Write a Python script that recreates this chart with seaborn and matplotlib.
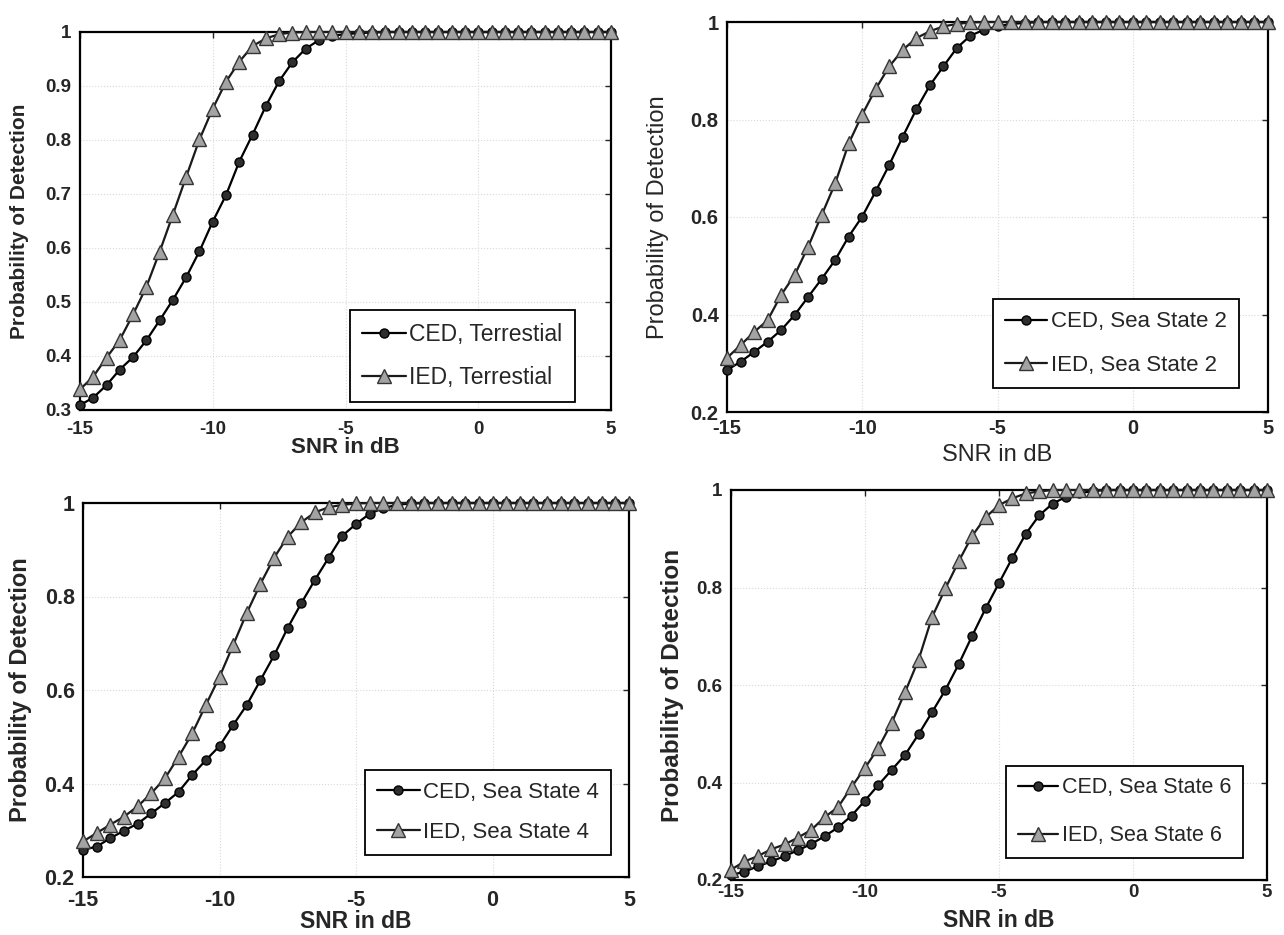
import matplotlib
matplotlib.use("Agg")
import matplotlib.pyplot as plt
import seaborn as sns
from matplotlib.ticker import FuncFormatter

# SNR sweep (dB)
snr_db = [-15.0, -14.5, -14.0, -13.5, -13.0, -12.5, -12.0, -11.5, -11.0, -10.5,
          -10.0, -9.5, -9.0, -8.5, -8.0, -7.5, -7.0, -6.5, -6.0, -5.5,
          -5.0, -4.5, -4.0, -3.5, -3.0, -2.5, -2.0, -1.5, -1.0, -0.5,
          0.0, 0.5, 1.0, 1.5, 2.0, 2.5, 3.0, 3.5, 4.0, 4.5, 5.0]

# Probability of detection, terrestrial
ced_terrestrial = [0.309, 0.323, 0.346, 0.375, 0.398, 0.429, 0.466, 0.504, 0.546, 0.594,
                   0.649, 0.698, 0.760, 0.810, 0.863, 0.909, 0.944, 0.969, 0.985, 0.993,
                   0.996, 0.998, 0.999, 1.0, 1.0, 1.0, 1.0, 1.0, 1.0, 1.0,
                   1.0, 1.0, 1.0, 1.0, 1.0, 1.0, 1.0, 1.0, 1.0, 1.0, 1.0]
ied_terrestrial = [0.338, 0.362, 0.397, 0.430, 0.477, 0.528, 0.593, 0.662, 0.732, 0.801,
                   0.858, 0.908, 0.945, 0.974, 0.988, 0.996, 0.999, 1.0, 1.0, 1.0,
                   1.0, 1.0, 1.0, 1.0, 1.0, 1.0, 1.0, 1.0, 1.0, 1.0,
                   1.0, 1.0, 1.0, 1.0, 1.0, 1.0, 1.0, 1.0, 1.0, 1.0, 1.0]

# Sea state 2
ced_sea2 = [0.286, 0.303, 0.323, 0.344, 0.368, 0.399, 0.436, 0.473, 0.512, 0.560,
            0.601, 0.653, 0.707, 0.765, 0.821, 0.870, 0.909, 0.947, 0.972, 0.984,
            0.991, 0.996, 0.998, 1.0, 1.0, 1.0, 1.0, 1.0, 1.0, 1.0,
            1.0, 1.0, 1.0, 1.0, 1.0, 1.0, 1.0, 1.0, 1.0, 1.0, 1.0]
ied_sea2 = [0.311, 0.337, 0.364, 0.388, 0.440, 0.481, 0.539, 0.604, 0.669, 0.751,
            0.810, 0.863, 0.909, 0.943, 0.967, 0.981, 0.991, 0.996, 0.999, 1.0,
            1.0, 1.0, 1.0, 1.0, 1.0, 1.0, 1.0, 1.0, 1.0, 1.0,
            1.0, 1.0, 1.0, 1.0, 1.0, 1.0, 1.0, 1.0, 1.0, 1.0, 1.0]

# Sea state 4
ced_sea4 = [0.258, 0.265, 0.283, 0.299, 0.314, 0.336, 0.358, 0.382, 0.418, 0.450,
            0.480, 0.525, 0.568, 0.621, 0.674, 0.733, 0.786, 0.836, 0.883, 0.930,
            0.955, 0.977, 0.989, 0.996, 0.999, 1.0, 1.0, 1.0, 1.0, 1.0,
            1.0, 1.0, 1.0, 1.0, 1.0, 1.0, 1.0, 1.0, 1.0, 1.0, 1.0]
ied_sea4 = [0.276, 0.294, 0.312, 0.329, 0.351, 0.379, 0.411, 0.457, 0.507, 0.568,
            0.628, 0.696, 0.765, 0.827, 0.883, 0.928, 0.959, 0.980, 0.991, 0.996,
            0.999, 1.0, 1.0, 1.0, 1.0, 1.0, 1.0, 1.0, 1.0, 1.0,
            1.0, 1.0, 1.0, 1.0, 1.0, 1.0, 1.0, 1.0, 1.0, 1.0, 1.0]

# Sea state 6
ced_sea6 = [0.210, 0.217, 0.228, 0.238, 0.249, 0.261, 0.274, 0.290, 0.308, 0.332,
            0.363, 0.395, 0.426, 0.457, 0.499, 0.544, 0.590, 0.643, 0.701, 0.757,
            0.809, 0.861, 0.910, 0.948, 0.972, 0.986, 0.993, 0.998, 1.0, 1.0,
            1.0, 1.0, 1.0, 1.0, 1.0, 1.0, 1.0, 1.0, 1.0, 1.0, 1.0]
ied_sea6 = [0.221, 0.238, 0.249, 0.263, 0.273, 0.287, 0.303, 0.329, 0.350, 0.391,
            0.430, 0.471, 0.523, 0.586, 0.652, 0.739, 0.798, 0.854, 0.906, 0.944,
            0.969, 0.983, 0.993, 0.997, 1.0, 1.0, 1.0, 1.0, 1.0, 1.0,
            1.0, 1.0, 1.0, 1.0, 1.0, 1.0, 1.0, 1.0, 1.0, 1.0, 1.0]

scenario_names = ["Terrestial", "Sea State 2", "Sea State 4", "Sea State 6"]
x_ticks = [-15, -10, -5, 0, 5]
y_ticks_terrestrial = [0.3, 0.4, 0.5, 0.6, 0.7, 0.8, 0.9, 1.0]
y_ticks_sea = [0.2, 0.4, 0.6, 0.8, 1.0]

sns.set_style("white")
plt.rcParams["font.family"] = ["Liberation Sans", "DejaVu Sans"]
plt.rcParams["axes.unicode_minus"] = False

W, H = 1284, 935
fig = plt.figure(figsize=(W / 100, H / 100), dpi=100)


def px_rect(x0, x1, y0, y1):
    """Axes rectangle from pixel edges (origin at top-left)."""
    return [x0 / W, 1 - y1 / H, (x1 - x0) / W, (y1 - y0) / H]


panels = [
    dict(ced=ced_terrestrial, ied=ied_terrestrial, name=scenario_names[0],
         ylim=(0.3, 1.0), yticks=y_ticks_terrestrial,
         rect=px_rect(80, 611, 32, 410), anchor=(0.932, 0.021),
         tick_size=13.5, xpad=8, weight="bold", xl_size=16, yl_size=15,
         xl_y=-0.098, yl_x=-0.113, leg_size=16.5, leg_space=0.9),
    dict(ced=ced_sea2, ied=ied_sea2, name=scenario_names[1],
         ylim=(0.2, 1.0), yticks=y_ticks_sea,
         rect=px_rect(727, 1268, 22, 412), anchor=(0.946, 0.062),
         tick_size=14.5, xpad=5, weight="normal", xl_size=17, yl_size=17,
         xl_y=-0.110, yl_x=-0.128, leg_size=16, leg_space=1.0),
    dict(ced=ced_sea4, ied=ied_sea4, name=scenario_names[2],
         ylim=(0.2, 1.0), yticks=y_ticks_sea,
         rect=px_rect(83, 629, 503, 877), anchor=(0.967, 0.059),
         tick_size=15.5, xpad=9, weight="bold", xl_size=16.5, yl_size=17,
         xl_y=-0.120, yl_x=-0.115, leg_size=16, leg_space=0.85),
    dict(ced=ced_sea6, ied=ied_sea6, name=scenario_names[3],
         ylim=(0.2, 1.0), yticks=y_ticks_sea,
         rect=px_rect(731, 1267, 490, 880), anchor=(0.955, 0.056),
         tick_size=13.5, xpad=3, weight="bold", xl_size=16.5, yl_size=17.5,
         xl_y=-0.103, yl_x=-0.110, leg_size=15.5, leg_space=1.25),
]

for p in panels:
    ax = fig.add_axes(p["rect"])
    sns.lineplot(x=snr_db, y=p["ced"], ax=ax, color="black", linewidth=1.6,
                 marker="o", markersize=6.5, markerfacecolor="#2e2e2e",
                 markeredgecolor="black", markeredgewidth=1.0,
                 label=f"CED, {p['name']}", clip_on=False, zorder=3)
    sns.lineplot(x=snr_db, y=p["ied"], ax=ax, color="#1a1a1a", linewidth=1.6,
                 marker="^", markersize=9.5, markerfacecolor="#a3a3a3",
                 markeredgecolor="#353535", markeredgewidth=1.0,
                 label=f"IED, {p['name']}", clip_on=False, zorder=4)

    ax.set_xlim(-15, 5)
    ax.set_ylim(*p["ylim"])
    ax.set_xticks(x_ticks)
    ax.set_yticks(p["yticks"])
    ax.yaxis.set_major_formatter(FuncFormatter(lambda v, pos: f"{v:g}"))
    ax.grid(True, linestyle=":", color="#d9d9d9", linewidth=0.8)
    ax.tick_params(direction="in", top=True, right=True, length=4, width=1.0,
                   labelsize=p["tick_size"])
    ax.tick_params(axis="x", pad=p["xpad"])
    ax.tick_params(axis="y", pad=6)
    for lab in ax.get_xticklabels() + ax.get_yticklabels():
        lab.set_fontweight("bold")
    for s in ax.spines.values():
        s.set_color("black")
        s.set_linewidth(1.6)

    ax.set_xlabel("SNR in dB", fontsize=p["xl_size"], fontweight=p["weight"])
    ax.set_ylabel("Probability of Detection", fontsize=p["yl_size"],
                  fontweight=p["weight"])
    ax.xaxis.set_label_coords(0.5, p["xl_y"])
    ax.xaxis.label.set_verticalalignment("center")
    ax.yaxis.set_label_coords(p["yl_x"], 0.5)
    ax.yaxis.label.set_verticalalignment("center")

    leg = ax.legend(loc="lower right", bbox_to_anchor=p["anchor"],
                    fontsize=p["leg_size"], frameon=True, fancybox=False,
                    edgecolor="black", framealpha=1, handlelength=1.9,
                    handletextpad=0.15, borderpad=0.55,
                    labelspacing=p["leg_space"], borderaxespad=0)
    leg.get_frame().set_linewidth(1.3)

fig.savefig("out.png", dpi=100)
